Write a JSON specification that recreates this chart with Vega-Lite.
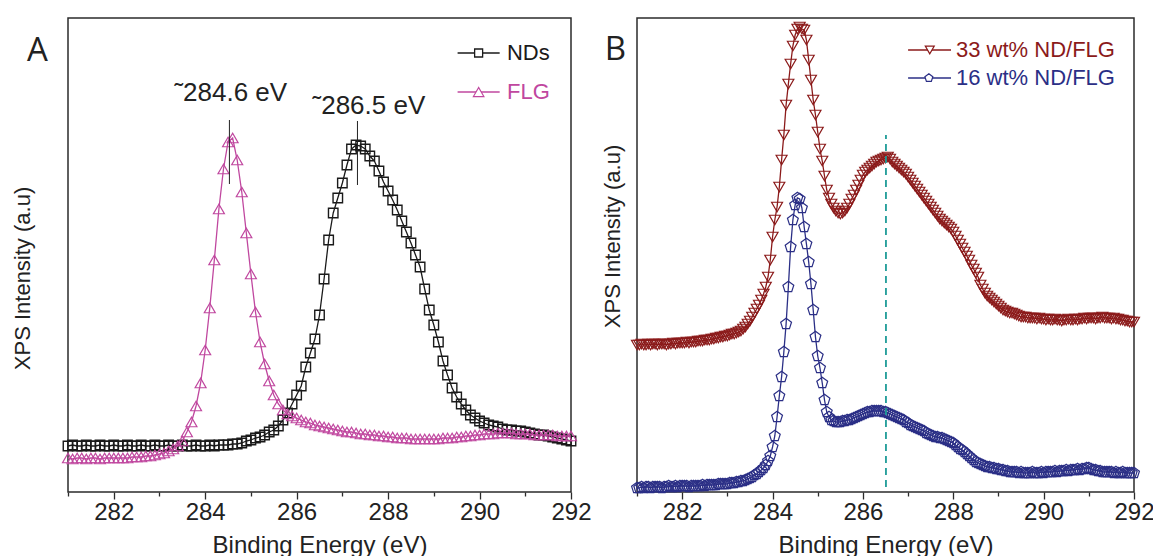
{
"$schema": "https://vega.github.io/schema/vega-lite/v6.json",
"background": "white",
"padding": {"left": 10, "top": 17, "right": 0, "bottom": 0},
"spacing": 66,
"bounds": "flush",
"config": {"font": "Liberation Sans", "view": {"stroke": "#2b2b2b", "strokeWidth": 1.5}},
"datasets": {
"nds": [{"e":281,"i":46},{"e":281.1,"i":47},{"e":281.2,"i":46},{"e":281.3,"i":46},{"e":281.4,"i":47},{"e":281.5,"i":46},{"e":281.6,"i":46},{"e":281.7,"i":47},{"e":281.8,"i":46},{"e":281.9,"i":46},
{"e":282,"i":47},{"e":282.1,"i":46},{"e":282.2,"i":46},{"e":282.3,"i":47},{"e":282.4,"i":46},{"e":282.5,"i":46},{"e":282.6,"i":47},{"e":282.7,"i":46},{"e":282.8,"i":46},{"e":282.9,"i":47},
{"e":283,"i":46},{"e":283.1,"i":46},{"e":283.2,"i":47},{"e":283.3,"i":46},{"e":283.4,"i":46},{"e":283.5,"i":47},{"e":283.6,"i":46},{"e":283.7,"i":46},{"e":283.8,"i":47},{"e":283.9,"i":46},
{"e":284,"i":46},{"e":284.1,"i":47},{"e":284.2,"i":46},{"e":284.3,"i":47},{"e":284.4,"i":47},{"e":284.5,"i":47},{"e":284.6,"i":48},{"e":284.7,"i":48},{"e":284.8,"i":49},{"e":284.9,"i":51},
{"e":285,"i":52},{"e":285.1,"i":54},{"e":285.2,"i":55},{"e":285.3,"i":57},{"e":285.4,"i":60},{"e":285.5,"i":62},{"e":285.6,"i":66},{"e":285.7,"i":72},{"e":285.8,"i":79},{"e":285.9,"i":88},
{"e":286,"i":97},{"e":286.1,"i":106},{"e":286.2,"i":125},{"e":286.3,"i":139},{"e":286.4,"i":153},{"e":286.5,"i":177},{"e":286.6,"i":213},{"e":286.7,"i":252},{"e":286.8,"i":279},{"e":286.9,"i":294},
{"e":287,"i":309},{"e":287.1,"i":327},{"e":287.2,"i":343},{"e":287.3,"i":347},{"e":287.4,"i":346},{"e":287.5,"i":343},{"e":287.6,"i":336},{"e":287.7,"i":331},{"e":287.8,"i":321},{"e":287.9,"i":310},
{"e":288,"i":301},{"e":288.1,"i":292},{"e":288.2,"i":282},{"e":288.3,"i":271},{"e":288.4,"i":260},{"e":288.5,"i":249},{"e":288.6,"i":237},{"e":288.7,"i":225},{"e":288.8,"i":203},{"e":288.9,"i":182},
{"e":289,"i":167},{"e":289.1,"i":150},{"e":289.2,"i":131},{"e":289.3,"i":117},{"e":289.4,"i":104},{"e":289.5,"i":95},{"e":289.6,"i":88},{"e":289.7,"i":82},{"e":289.8,"i":77},{"e":289.9,"i":74},
{"e":290,"i":71},{"e":290.1,"i":69},{"e":290.2,"i":67},{"e":290.3,"i":66},{"e":290.4,"i":65},{"e":290.5,"i":63},{"e":290.6,"i":62},{"e":290.7,"i":62},{"e":290.8,"i":61},{"e":290.9,"i":61},
{"e":291,"i":60},{"e":291.1,"i":59},{"e":291.2,"i":58},{"e":291.3,"i":57},{"e":291.4,"i":57},{"e":291.5,"i":56},{"e":291.6,"i":55},{"e":291.7,"i":54},{"e":291.8,"i":53},{"e":291.9,"i":52},{"e":292,"i":51}],
"flg": [{"e":281,"i":34},{"e":281.1,"i":33},{"e":281.2,"i":34},{"e":281.3,"i":34},{"e":281.4,"i":33},{"e":281.5,"i":34},{"e":281.6,"i":34},{"e":281.7,"i":33},{"e":281.8,"i":34},{"e":281.9,"i":34},
{"e":282,"i":34},{"e":282.1,"i":34},{"e":282.2,"i":34},{"e":282.3,"i":34},{"e":282.4,"i":35},{"e":282.5,"i":35},{"e":282.6,"i":35},{"e":282.7,"i":36},{"e":282.8,"i":36},{"e":282.9,"i":37},
{"e":283,"i":38},{"e":283.1,"i":39},{"e":283.2,"i":41},{"e":283.3,"i":43},{"e":283.4,"i":46},{"e":283.5,"i":51},{"e":283.6,"i":60},{"e":283.7,"i":70},{"e":283.8,"i":86},{"e":283.9,"i":109},
{"e":284,"i":142},{"e":284.1,"i":184},{"e":284.2,"i":232},{"e":284.3,"i":283},{"e":284.4,"i":323},{"e":284.5,"i":350},{"e":284.6,"i":354},{"e":284.7,"i":332},{"e":284.8,"i":300},{"e":284.9,"i":259},
{"e":285,"i":218},{"e":285.1,"i":180},{"e":285.2,"i":150},{"e":285.3,"i":128},{"e":285.4,"i":111},{"e":285.5,"i":97},{"e":285.6,"i":88},{"e":285.7,"i":82},{"e":285.8,"i":78},{"e":285.9,"i":76},
{"e":286,"i":74},{"e":286.1,"i":72},{"e":286.2,"i":70},{"e":286.3,"i":69},{"e":286.4,"i":67},{"e":286.5,"i":66},{"e":286.6,"i":65},{"e":286.7,"i":64},{"e":286.8,"i":63},{"e":286.9,"i":62},
{"e":287,"i":61},{"e":287.1,"i":60},{"e":287.2,"i":60},{"e":287.3,"i":59},{"e":287.4,"i":58},{"e":287.5,"i":58},{"e":287.6,"i":57},{"e":287.7,"i":57},{"e":287.8,"i":56},{"e":287.9,"i":56},
{"e":288,"i":55},{"e":288.1,"i":55},{"e":288.2,"i":54},{"e":288.3,"i":54},{"e":288.4,"i":54},{"e":288.5,"i":53},{"e":288.6,"i":53},{"e":288.7,"i":53},{"e":288.8,"i":53},{"e":288.9,"i":53},
{"e":289,"i":53},{"e":289.1,"i":53},{"e":289.2,"i":54},{"e":289.3,"i":54},{"e":289.4,"i":54},{"e":289.5,"i":55},{"e":289.6,"i":55},{"e":289.7,"i":56},{"e":289.8,"i":56},{"e":289.9,"i":57},
{"e":290,"i":57},{"e":290.1,"i":58},{"e":290.2,"i":58},{"e":290.3,"i":58},{"e":290.4,"i":59},{"e":290.5,"i":59},{"e":290.6,"i":59},{"e":290.7,"i":59},{"e":290.8,"i":58},{"e":290.9,"i":58},
{"e":291,"i":58},{"e":291.1,"i":58},{"e":291.2,"i":57},{"e":291.3,"i":57},{"e":291.4,"i":57},{"e":291.5,"i":57},{"e":291.6,"i":57},{"e":291.7,"i":56},{"e":291.8,"i":56},{"e":291.9,"i":56},{"e":292,"i":56}],
"r33": [{"e":281,"i":147},{"e":281.05,"i":147},{"e":281.1,"i":148},{"e":281.15,"i":147},{"e":281.2,"i":147},{"e":281.25,"i":148},{"e":281.3,"i":147},{"e":281.35,"i":148},{"e":281.4,"i":148},{"e":281.45,"i":147},
{"e":281.5,"i":148},{"e":281.55,"i":148},{"e":281.6,"i":148},{"e":281.65,"i":147},{"e":281.7,"i":148},{"e":281.75,"i":148},{"e":281.8,"i":149},{"e":281.85,"i":148},{"e":281.9,"i":149},{"e":281.95,"i":149},
{"e":282,"i":149},{"e":282.05,"i":149},{"e":282.1,"i":150},{"e":282.15,"i":149},{"e":282.2,"i":150},{"e":282.25,"i":150},{"e":282.3,"i":150},{"e":282.35,"i":151},{"e":282.4,"i":151},{"e":282.45,"i":151},
{"e":282.5,"i":152},{"e":282.55,"i":152},{"e":282.6,"i":152},{"e":282.65,"i":153},{"e":282.7,"i":153},{"e":282.75,"i":154},{"e":282.8,"i":154},{"e":282.85,"i":155},{"e":282.9,"i":155},{"e":282.95,"i":156},
{"e":283,"i":156},{"e":283.05,"i":157},{"e":283.1,"i":158},{"e":283.15,"i":158},{"e":283.2,"i":159},{"e":283.25,"i":160},{"e":283.3,"i":161},{"e":283.35,"i":163},{"e":283.4,"i":165},{"e":283.45,"i":168},
{"e":283.5,"i":171},{"e":283.55,"i":175},{"e":283.6,"i":179},{"e":283.65,"i":183},{"e":283.7,"i":187},{"e":283.75,"i":192},{"e":283.8,"i":198},{"e":283.85,"i":205},{"e":283.9,"i":215},{"e":283.95,"i":232},
{"e":284,"i":255},{"e":284.05,"i":272},{"e":284.1,"i":285},{"e":284.15,"i":305},{"e":284.2,"i":332},{"e":284.25,"i":357},{"e":284.3,"i":387},{"e":284.35,"i":408},{"e":284.4,"i":428},{"e":284.45,"i":446},
{"e":284.5,"i":457},{"e":284.55,"i":463},{"e":284.6,"i":465},{"e":284.65,"i":463},{"e":284.7,"i":462},{"e":284.75,"i":452},{"e":284.8,"i":432},{"e":284.85,"i":412},{"e":284.9,"i":392},{"e":284.95,"i":377},
{"e":285,"i":360},{"e":285.05,"i":343},{"e":285.1,"i":331},{"e":285.15,"i":316},{"e":285.2,"i":302},{"e":285.25,"i":294},{"e":285.3,"i":288},{"e":285.35,"i":284},{"e":285.4,"i":281},{"e":285.45,"i":279},
{"e":285.5,"i":278},{"e":285.55,"i":279},{"e":285.6,"i":281},{"e":285.65,"i":284},{"e":285.7,"i":288},{"e":285.75,"i":293},{"e":285.8,"i":297},{"e":285.85,"i":302},{"e":285.9,"i":307},{"e":285.95,"i":312},
{"e":286,"i":317},{"e":286.05,"i":320},{"e":286.1,"i":322},{"e":286.15,"i":324},{"e":286.2,"i":326},{"e":286.25,"i":328},{"e":286.3,"i":330},{"e":286.35,"i":331},{"e":286.4,"i":332},{"e":286.45,"i":333},
{"e":286.5,"i":334},{"e":286.55,"i":335},{"e":286.6,"i":333},{"e":286.65,"i":330},{"e":286.7,"i":328},{"e":286.75,"i":326},{"e":286.8,"i":324},{"e":286.85,"i":322},{"e":286.9,"i":320},{"e":286.95,"i":318},
{"e":287,"i":315},{"e":287.05,"i":312},{"e":287.1,"i":309},{"e":287.15,"i":306},{"e":287.2,"i":303},{"e":287.25,"i":300},{"e":287.3,"i":297},{"e":287.35,"i":294},{"e":287.4,"i":291},{"e":287.45,"i":288},
{"e":287.5,"i":285},{"e":287.55,"i":282},{"e":287.6,"i":279},{"e":287.65,"i":276},{"e":287.7,"i":273},{"e":287.75,"i":271},{"e":287.8,"i":269},{"e":287.85,"i":267},{"e":287.9,"i":265},{"e":287.95,"i":263},
{"e":288,"i":260},{"e":288.05,"i":256},{"e":288.1,"i":252},{"e":288.15,"i":248},{"e":288.2,"i":244},{"e":288.25,"i":240},{"e":288.3,"i":236},{"e":288.35,"i":232},{"e":288.4,"i":227},{"e":288.45,"i":223},
{"e":288.5,"i":219},{"e":288.55,"i":215},{"e":288.6,"i":207},{"e":288.65,"i":203},{"e":288.7,"i":199},{"e":288.75,"i":196},{"e":288.8,"i":194},{"e":288.85,"i":192},{"e":288.9,"i":190},{"e":288.95,"i":188},
{"e":289,"i":186},{"e":289.05,"i":184},{"e":289.1,"i":182},{"e":289.15,"i":181},{"e":289.2,"i":180},{"e":289.25,"i":179},{"e":289.3,"i":179},{"e":289.35,"i":178},{"e":289.4,"i":177},{"e":289.45,"i":176},
{"e":289.5,"i":175},{"e":289.55,"i":175},{"e":289.6,"i":175},{"e":289.65,"i":174},{"e":289.7,"i":174},{"e":289.75,"i":174},{"e":289.8,"i":174},{"e":289.85,"i":173},{"e":289.9,"i":174},{"e":289.95,"i":173},
{"e":290,"i":173},{"e":290.05,"i":172},{"e":290.1,"i":173},{"e":290.15,"i":172},{"e":290.2,"i":172},{"e":290.25,"i":173},{"e":290.3,"i":172},{"e":290.35,"i":172},{"e":290.4,"i":171},{"e":290.45,"i":172},
{"e":290.5,"i":172},{"e":290.55,"i":173},{"e":290.6,"i":172},{"e":290.65,"i":172},{"e":290.7,"i":173},{"e":290.75,"i":172},{"e":290.8,"i":173},{"e":290.85,"i":173},{"e":290.9,"i":174},{"e":290.95,"i":173},
{"e":291,"i":174},{"e":291.05,"i":174},{"e":291.1,"i":174},{"e":291.15,"i":173},{"e":291.2,"i":174},{"e":291.25,"i":174},{"e":291.3,"i":175},{"e":291.35,"i":174},{"e":291.4,"i":174},{"e":291.45,"i":174},
{"e":291.5,"i":173},{"e":291.55,"i":174},{"e":291.6,"i":173},{"e":291.65,"i":173},{"e":291.7,"i":172},{"e":291.75,"i":172},{"e":291.8,"i":171},{"e":291.85,"i":171},{"e":291.9,"i":170},{"e":291.95,"i":170},{"e":292,"i":170}],
"b16": [{"e":281,"i":4},{"e":281.05,"i":4},{"e":281.1,"i":5},{"e":281.15,"i":4},{"e":281.2,"i":5},{"e":281.25,"i":5},{"e":281.3,"i":4},{"e":281.35,"i":5},{"e":281.4,"i":5},{"e":281.45,"i":5},
{"e":281.5,"i":5},{"e":281.55,"i":4},{"e":281.6,"i":5},{"e":281.65,"i":5},{"e":281.7,"i":6},{"e":281.75,"i":5},{"e":281.8,"i":5},{"e":281.85,"i":6},{"e":281.9,"i":5},{"e":281.95,"i":6},
{"e":282,"i":6},{"e":282.05,"i":6},{"e":282.1,"i":6},{"e":282.15,"i":5},{"e":282.2,"i":6},{"e":282.25,"i":6},{"e":282.3,"i":6},{"e":282.35,"i":6},{"e":282.4,"i":6},{"e":282.45,"i":7},
{"e":282.5,"i":6},{"e":282.55,"i":7},{"e":282.6,"i":7},{"e":282.65,"i":7},{"e":282.7,"i":7},{"e":282.75,"i":7},{"e":282.8,"i":8},{"e":282.85,"i":8},{"e":282.9,"i":8},{"e":282.95,"i":8},
{"e":283,"i":8},{"e":283.05,"i":9},{"e":283.1,"i":9},{"e":283.15,"i":9},{"e":283.2,"i":10},{"e":283.25,"i":10},{"e":283.3,"i":11},{"e":283.35,"i":11},{"e":283.4,"i":12},{"e":283.45,"i":13},
{"e":283.5,"i":14},{"e":283.55,"i":15},{"e":283.6,"i":17},{"e":283.65,"i":18},{"e":283.7,"i":20},{"e":283.75,"i":22},{"e":283.8,"i":24},{"e":283.85,"i":27},{"e":283.9,"i":31},{"e":283.95,"i":36},
{"e":284,"i":45},{"e":284.05,"i":56},{"e":284.1,"i":75},{"e":284.15,"i":96},{"e":284.2,"i":115},{"e":284.25,"i":140},{"e":284.3,"i":168},{"e":284.35,"i":205},{"e":284.4,"i":245},{"e":284.45,"i":272},
{"e":284.5,"i":287},{"e":284.55,"i":294},{"e":284.6,"i":293},{"e":284.65,"i":284},{"e":284.7,"i":265},{"e":284.75,"i":248},{"e":284.8,"i":230},{"e":284.85,"i":208},{"e":284.9,"i":182},{"e":284.95,"i":155},
{"e":285,"i":136},{"e":285.05,"i":124},{"e":285.1,"i":109},{"e":285.15,"i":92},{"e":285.2,"i":80},{"e":285.25,"i":75},{"e":285.3,"i":72},{"e":285.35,"i":71},{"e":285.4,"i":70},{"e":285.45,"i":70},
{"e":285.5,"i":70},{"e":285.55,"i":71},{"e":285.6,"i":71},{"e":285.65,"i":72},{"e":285.7,"i":72},{"e":285.75,"i":73},{"e":285.8,"i":74},{"e":285.85,"i":75},{"e":285.9,"i":76},{"e":285.95,"i":77},
{"e":286,"i":78},{"e":286.05,"i":79},{"e":286.1,"i":80},{"e":286.15,"i":80},{"e":286.2,"i":81},{"e":286.25,"i":81},{"e":286.3,"i":81},{"e":286.35,"i":81},{"e":286.4,"i":81},{"e":286.45,"i":80},
{"e":286.5,"i":80},{"e":286.55,"i":79},{"e":286.6,"i":78},{"e":286.65,"i":77},{"e":286.7,"i":76},{"e":286.75,"i":75},{"e":286.8,"i":74},{"e":286.85,"i":73},{"e":286.9,"i":72},{"e":286.95,"i":70},
{"e":287,"i":69},{"e":287.05,"i":67},{"e":287.1,"i":66},{"e":287.15,"i":65},{"e":287.2,"i":64},{"e":287.25,"i":63},{"e":287.3,"i":62},{"e":287.35,"i":61},{"e":287.4,"i":59},{"e":287.45,"i":58},
{"e":287.5,"i":57},{"e":287.55,"i":56},{"e":287.6,"i":55},{"e":287.65,"i":55},{"e":287.7,"i":54},{"e":287.75,"i":54},{"e":287.8,"i":53},{"e":287.85,"i":52},{"e":287.9,"i":51},{"e":287.95,"i":50},
{"e":288,"i":49},{"e":288.05,"i":47},{"e":288.1,"i":45},{"e":288.15,"i":43},{"e":288.2,"i":42},{"e":288.25,"i":40},{"e":288.3,"i":38},{"e":288.35,"i":36},{"e":288.4,"i":34},{"e":288.45,"i":32},
{"e":288.5,"i":30},{"e":288.55,"i":29},{"e":288.6,"i":28},{"e":288.65,"i":27},{"e":288.7,"i":26},{"e":288.75,"i":25},{"e":288.8,"i":25},{"e":288.85,"i":24},{"e":288.9,"i":24},{"e":288.95,"i":23},
{"e":289,"i":23},{"e":289.05,"i":22},{"e":289.1,"i":22},{"e":289.15,"i":21},{"e":289.2,"i":21},{"e":289.25,"i":20},{"e":289.3,"i":20},{"e":289.35,"i":20},{"e":289.4,"i":20},{"e":289.45,"i":19},
{"e":289.5,"i":20},{"e":289.55,"i":19},{"e":289.6,"i":19},{"e":289.65,"i":19},{"e":289.7,"i":19},{"e":289.75,"i":20},{"e":289.8,"i":19},{"e":289.85,"i":19},{"e":289.9,"i":19},{"e":289.95,"i":20},
{"e":290,"i":19},{"e":290.05,"i":20},{"e":290.1,"i":20},{"e":290.15,"i":20},{"e":290.2,"i":20},{"e":290.25,"i":21},{"e":290.3,"i":20},{"e":290.35,"i":21},{"e":290.4,"i":21},{"e":290.45,"i":21},
{"e":290.5,"i":22},{"e":290.55,"i":21},{"e":290.6,"i":22},{"e":290.65,"i":22},{"e":290.7,"i":22},{"e":290.75,"i":23},{"e":290.8,"i":22},{"e":290.85,"i":23},{"e":290.9,"i":23},{"e":290.95,"i":24},
{"e":291,"i":24},{"e":291.05,"i":23},{"e":291.1,"i":22},{"e":291.15,"i":22},{"e":291.2,"i":21},{"e":291.25,"i":21},{"e":291.3,"i":20},{"e":291.35,"i":20},{"e":291.4,"i":20},{"e":291.45,"i":20},
{"e":291.5,"i":20},{"e":291.55,"i":19},{"e":291.6,"i":20},{"e":291.65,"i":19},{"e":291.7,"i":19},{"e":291.75,"i":20},{"e":291.8,"i":19},{"e":291.85,"i":19},{"e":291.9,"i":19},{"e":291.95,"i":19},{"e":292,"i":19}]
},
"hconcat": [
{
"width": 503, "height": 474,
"layer": [
{
"encoding": {
"x": {"field": "e", "type": "quantitative", "scale": {"domain": [281, 292], "nice": false, "zero": false},
"axis": {"title": "Binding Energy (eV)", "values": [281,282,283,284,285,286,287,288,289,290,291,292], "labelExpr": "datum.value % 2 == 0 ? datum.label : ''", "tickSize": {"condition": {"test": "datum.value % 2 == 1", "value": 4}, "value": 7}, "tickColor": "#2b2b2b", "tickWidth": 1.3, "domain": false, "grid": false, "labelFontSize": 24, "labelColor": "#222", "labelPadding": 1, "labelFlush": false, "labelOverlap": false, "titleFontSize": 24, "titleFontWeight": "normal", "titleColor": "#222", "titlePadding": 9}},
"y": {"field": "i", "type": "quantitative", "scale": {"domain": [0, 474], "nice": false, "zero": false},
"axis": {"title": "XPS Intensity (a.u)", "labels": false, "ticks": false, "domain": false, "grid": false, "titlePadding": 34, "titleY": 260, "titleFontSize": 22, "titleFontWeight": "normal", "titleColor": "#222"}}
},
"layer": [
{"data": {"name": "nds"}, "mark": {"type": "line", "color": "#1a1a1a", "strokeWidth": 1.3}},
{"data": {"name": "nds"}, "mark": {"type": "point", "shape": "square", "size": 90, "color": "#1a1a1a", "strokeWidth": 1.4, "filled": false, "opacity": 1}},
{"data": {"name": "flg"}, "mark": {"type": "line", "color": "#c0479f", "strokeWidth": 1.3}},
{"data": {"name": "flg"}, "mark": {"type": "point", "shape": "triangle-up", "size": 120, "color": "#c0479f", "strokeWidth": 1.2, "filled": false, "opacity": 1}},
{"data": {"values": [{"e": 284.53, "i": 372, "i2": 308}, {"e": 287.33, "i": 371, "i2": 307}]}, "mark": {"type": "rule", "color": "#222", "strokeWidth": 1}, "encoding": {"y2": {"field": "i2"}}},
{"data": {"values": [{"e": 284.56, "i": 391, "t": "˜284.6 eV"}, {"e": 287.58, "i": 378, "t": "˜286.5 eV"}]}, "mark": {"type": "text", "fontSize": 26, "baseline": "alphabetic", "align": "center", "color": "#222"}, "encoding": {"text": {"field": "t"}}}
]
},
{
"data": {"values": [{"k": 1}]},
"layer": [
{"mark": {"type": "rule", "color": "#1a1a1a", "strokeWidth": 1.3}, "encoding": {"x": {"datum": 289.52, "type": "quantitative"}, "x2": {"datum": 290.44}, "y": {"datum": 439, "type": "quantitative"}}},
{"mark": {"type": "point", "shape": "square", "size": 64, "strokeWidth": 1.3, "filled": true, "fill": "white", "stroke": "#1a1a1a", "opacity": 1}, "encoding": {"x": {"datum": 289.98, "type": "quantitative"}, "y": {"datum": 439, "type": "quantitative"}}},
{"mark": {"type": "text", "text": "NDs", "align": "left", "baseline": "middle", "fontSize": 22, "color": "#1a1a1a"}, "encoding": {"x": {"datum": 290.6, "type": "quantitative"}, "y": {"datum": 439, "type": "quantitative"}}},
{"mark": {"type": "rule", "color": "#c0479f", "strokeWidth": 1.3}, "encoding": {"x": {"datum": 289.52, "type": "quantitative"}, "x2": {"datum": 290.44}, "y": {"datum": 400, "type": "quantitative"}}},
{"mark": {"type": "point", "shape": "triangle-up", "size": 110, "strokeWidth": 1.2, "filled": true, "fill": "white", "stroke": "#c0479f", "opacity": 1}, "encoding": {"x": {"datum": 289.98, "type": "quantitative"}, "y": {"datum": 400, "type": "quantitative"}}},
{"mark": {"type": "text", "text": "FLG", "align": "left", "baseline": "middle", "fontSize": 22, "color": "#c0479f"}, "encoding": {"x": {"datum": 290.6, "type": "quantitative"}, "y": {"datum": 400, "type": "quantitative"}}},
{"mark": {"type": "text", "text": "A", "align": "center", "baseline": "alphabetic", "fontSize": 33, "font": "Open Sans", "color": "#222", "clip": false}, "encoding": {"x": {"datum": 280.33, "type": "quantitative"}, "y": {"datum": 431, "type": "quantitative"}}}
]
}
]
},
{
"width": 497, "height": 474,
"layer": [
{
"encoding": {
"x": {"field": "e", "type": "quantitative", "scale": {"domain": [281, 292], "nice": false, "zero": false},
"axis": {"title": "Binding Energy (eV)", "values": [281,282,283,284,285,286,287,288,289,290,291,292], "labelExpr": "datum.value % 2 == 0 ? datum.label : ''", "tickSize": {"condition": {"test": "datum.value % 2 == 1", "value": 4}, "value": 7}, "tickColor": "#2b2b2b", "tickWidth": 1.3, "domain": false, "grid": false, "labelFontSize": 24, "labelColor": "#222", "labelPadding": 1, "labelFlush": false, "labelOverlap": false, "titleFontSize": 24, "titleFontWeight": "normal", "titleColor": "#222", "titlePadding": 9}},
"y": {"field": "i", "type": "quantitative", "scale": {"domain": [0, 474], "nice": false, "zero": false},
"axis": {"title": "XPS Intensity (a.u)", "labels": false, "ticks": false, "domain": false, "grid": false, "titlePadding": 13, "titleY": 218, "titleFontSize": 22, "titleFontWeight": "normal", "titleColor": "#222"}}
},
"layer": [
{"data": {"name": "r33"}, "mark": {"type": "line", "color": "#8b1a1a", "strokeWidth": 1.3}},
{"data": {"name": "r33"}, "mark": {"type": "point", "shape": "triangle-down", "size": 120, "color": "#8b1a1a", "strokeWidth": 1.2, "filled": false, "opacity": 1}},
{"data": {"name": "b16"}, "mark": {"type": "line", "color": "#2b2f86", "strokeWidth": 1.3}},
{"data": {"name": "b16"}, "mark": {"type": "point", "shape": "M0,-1L0.951,-0.309L0.588,0.809L-0.588,0.809L-0.951,-0.309Z", "size": 130, "color": "#2b2f86", "strokeWidth": 1.2, "filled": false, "opacity": 1}}
]
},
{
"data": {"values": [{"k": 1}]},
"layer": [
{"mark": {"type": "rule", "color": "#1f9c98", "strokeWidth": 1.8, "strokeDash": [7, 5]}, "encoding": {"x": {"datum": 286.51, "type": "quantitative"}, "y": {"datum": 5, "type": "quantitative"}, "y2": {"datum": 357}}},
{"mark": {"type": "rule", "color": "#8b1a1a", "strokeWidth": 1.3}, "encoding": {"x": {"datum": 287.0, "type": "quantitative"}, "x2": {"datum": 287.95}, "y": {"datum": 442, "type": "quantitative"}}},
{"mark": {"type": "point", "shape": "triangle-down", "size": 80, "strokeWidth": 1.2, "filled": true, "fill": "white", "stroke": "#8b1a1a", "opacity": 1}, "encoding": {"x": {"datum": 287.48, "type": "quantitative"}, "y": {"datum": 442, "type": "quantitative"}}},
{"mark": {"type": "text", "text": "33 wt% ND/FLG", "align": "left", "baseline": "middle", "fontSize": 22, "color": "#8b1a1a"}, "encoding": {"x": {"datum": 288.06, "type": "quantitative"}, "y": {"datum": 442, "type": "quantitative"}}},
{"mark": {"type": "rule", "color": "#2b2f86", "strokeWidth": 1.3}, "encoding": {"x": {"datum": 287.0, "type": "quantitative"}, "x2": {"datum": 287.95}, "y": {"datum": 414, "type": "quantitative"}}},
{"mark": {"type": "point", "shape": "M0,-1L0.951,-0.309L0.588,0.809L-0.588,0.809L-0.951,-0.309Z", "size": 70, "strokeWidth": 1.2, "filled": true, "fill": "white", "stroke": "#2b2f86", "opacity": 1}, "encoding": {"x": {"datum": 287.46, "type": "quantitative"}, "y": {"datum": 414, "type": "quantitative"}}},
{"mark": {"type": "text", "text": "16 wt% ND/FLG", "align": "left", "baseline": "middle", "fontSize": 22, "color": "#2b2f86"}, "encoding": {"x": {"datum": 288.06, "type": "quantitative"}, "y": {"datum": 414, "type": "quantitative"}}},
{"mark": {"type": "text", "text": "B", "align": "center", "baseline": "alphabetic", "fontSize": 33, "font": "Open Sans", "color": "#222", "clip": false}, "encoding": {"x": {"datum": 280.52, "type": "quantitative"}, "y": {"datum": 432, "type": "quantitative"}}}
]
}
]
}
]
}
